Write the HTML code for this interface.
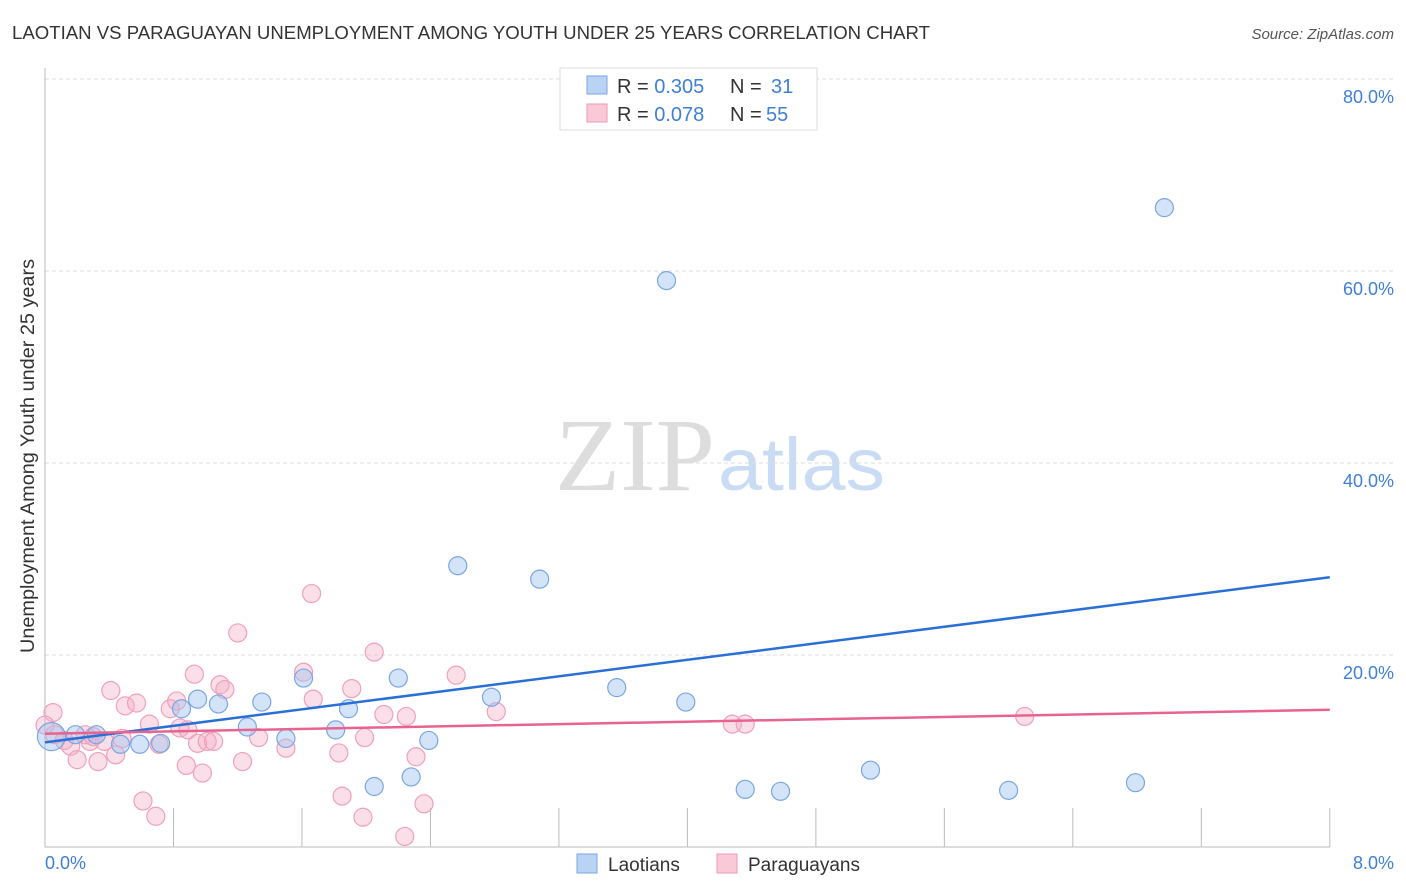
<!DOCTYPE html>
<html><head><meta charset="utf-8"><style>
body{margin:0;background:#fff;font-family:"Liberation Sans",sans-serif;}
#wrap{position:relative;width:1406px;height:892px;overflow:hidden}
</style></head><body>
<div id="wrap">
<svg id="chart" width="1406" height="892">
<text x="12" y="39" font-size="18" fill="#333" textLength="918" lengthAdjust="spacingAndGlyphs">LAOTIAN VS PARAGUAYAN UNEMPLOYMENT AMONG YOUTH UNDER 25 YEARS CORRELATION CHART</text>
<text x="1394" y="39" font-size="15" fill="#555" font-style="italic" text-anchor="end">Source: ZipAtlas.com</text>
<text x="555" y="490" font-size="104" fill="#ddd" textLength="160" lengthAdjust="spacingAndGlyphs" font-family="Liberation Serif,serif">ZIP</text>
<text x="718" y="490" font-size="74" fill="#c9dcf3" textLength="167" lengthAdjust="spacingAndGlyphs">atlas</text>
<g id="grid"></g><g id="pts"></g><g id="lines"></g>
<text transform="translate(34,456) rotate(-90)" font-size="19" fill="#333" text-anchor="middle" textLength="394" lengthAdjust="spacingAndGlyphs">Unemployment Among Youth under 25 years</text>
<text x="45" y="869" font-size="18" fill="#3f7fd6">0.0%</text>
<text x="1394" y="869" font-size="18" fill="#3f7fd6" text-anchor="end">8.0%</text>
<g>
<rect x="560" y="68" width="257" height="62" fill="#fff" stroke="#ddd"/>
<rect x="587" y="76" width="20" height="18" fill="#b8d3f4" stroke="#7aa6e2"/>
<rect x="587" y="104" width="20" height="18" fill="#f9c9d8" stroke="#ee9ab4"/>
<text x="617" y="93" font-size="20" fill="#333">R = <tspan fill="#3f7fd6">0.305</tspan></text>
<text x="730" y="93" font-size="20" fill="#333">N =</text>
<text x="771" y="93" font-size="20" fill="#3f7fd6">31</text>
<text x="617" y="121" font-size="20" fill="#333">R = <tspan fill="#3f7fd6">0.078</tspan></text>
<text x="730" y="121" font-size="20" fill="#333">N =</text>
<text x="766" y="121" font-size="20" fill="#3f7fd6">55</text>
</g>
<g>
<rect x="577" y="854" width="20" height="19" fill="#b8d3f4" stroke="#7aa6e2"/>
<text x="608" y="871" font-size="19" fill="#333">Laotians</text>
<rect x="717" y="854" width="20" height="19" fill="#f9c9d8" stroke="#ee9ab4"/>
<text x="748" y="871" font-size="19" fill="#333">Paraguayans</text>
</g>
</svg></div>
<script>
const yTicks=[20,40,60,80];
const laoX=[0.04,0.19,0.32,0.47,0.59,0.72,0.85,0.95,1.08,1.26,1.35,1.50,1.61,1.81,1.89,2.05,2.20,2.28,2.39,2.57,2.78,3.08,3.56,3.87,3.99,4.36,4.58,5.14,6.00,6.79,6.97];
const laoY=[11.5,11.7,11.7,10.7,10.7,10.8,14.4,15.4,14.9,12.5,15.1,11.3,17.6,12.2,14.4,6.3,17.6,7.3,11.1,29.3,15.6,27.9,16.6,59.0,15.1,6.0,5.8,8.0,5.9,6.7,66.6];
const parX=[0.05,0.06,0.12,0.16,0.20,0.25,0.28,0.30,0.33,0.37,0.41,0.44,0.48,0.50,0.57,0.61,0.65,0.69,0.71,0.78,0.82,0.84,0.88,0.93,0.89,0.95,0.98,1.01,1.05,1.09,1.12,1.20,1.23,1.33,1.50,1.66,1.61,1.67,1.83,1.85,1.91,1.98,1.99,2.05,2.11,2.24,2.25,2.31,2.36,2.56,2.81,4.28,4.36,6.10,0.00];
const parY=[14.0,11.7,11.1,10.5,9.1,11.7,11.0,11.5,8.9,11.0,16.3,9.6,11.3,14.7,15.0,4.8,12.8,3.2,10.7,14.4,15.2,12.4,8.5,18.0,12.2,10.8,7.7,11.0,11.0,16.9,16.4,22.3,8.9,11.4,10.3,26.4,18.2,15.4,9.8,5.3,16.5,3.1,11.4,20.3,13.8,1.1,13.6,9.4,4.5,17.9,14.1,12.8,12.8,13.6,12.7];
const laoTrend=[10.9,28.1];
const parTrend=[11.8,14.3];
const NS='http://www.w3.org/2000/svg';
const X=v=>45+v*160.6, Y=v=>847-v*9.6;
function mk(tag,at,parent){const e=document.createElementNS(NS,tag);for(const k in at)e.setAttribute(k,at[k]);parent.appendChild(e);return e;}
const grid=document.getElementById('grid');
yTicks.forEach(t=>{
 const l=mk('line',{x1:45,x2:1394,y1:Y(t),y2:Y(t),stroke:'#ddd','stroke-dasharray':'4,3'},grid);
 
 
 const tx=mk('text',{x:1394,y:Y(t)+24,'font-size':18,fill:'#3f7fd6','text-anchor':'end'},grid);
 tx.textContent=t.toFixed(1)+'%';
 
 
});
const ax=mk('path',{d:'M45,68V847H1330',stroke:'#bbb',fill:'none'},grid);


for(let i=1;i<=10;i++){const t=mk('line',{x1:X(i*0.8),x2:X(i*0.8),y1:808,y2:847,stroke:'#bbb'},grid);
 
 }
const pts=document.getElementById('pts');
parX.forEach((x,i)=>{const c=mk('circle',{cx:X(x),cy:Y(parY[i]),r:9,fill:'rgba(245,170,195,0.38)',stroke:'#f0a0ba','stroke-width':1.2},pts);
 
 });
laoX.forEach((x,i)=>{const c=mk('circle',{cx:X(x),cy:Y(laoY[i]),r:i==0?14:9,fill:'rgba(160,196,240,0.45)',stroke:'#7aa6e2','stroke-width':1.2},pts);
 
 });
const lines=document.getElementById('lines');
const lb=mk('line',{x1:X(0),y1:Y(laoTrend[0]),x2:X(8),y2:Y(laoTrend[1]),stroke:'#2a6fd6','stroke-width':2.5},lines);


const lp=mk('line',{x1:X(0),y1:Y(parTrend[0]),x2:X(8),y2:Y(parTrend[1]),stroke:'#e8638f','stroke-width':2.5},lines);


</script></body></html>
